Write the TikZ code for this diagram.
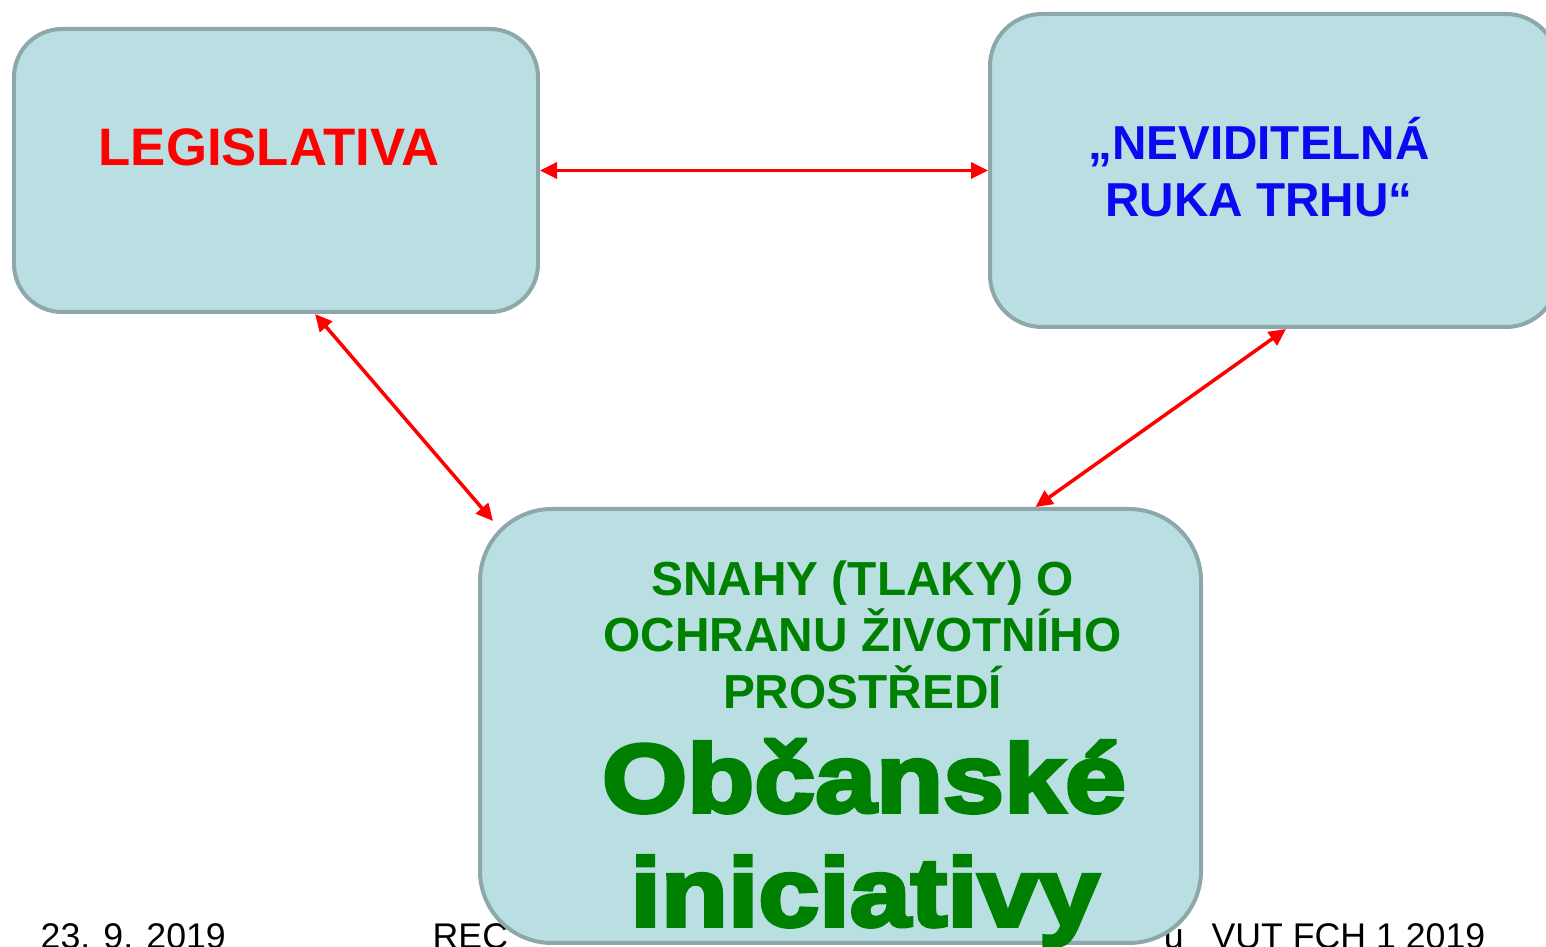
\documentclass[tikz,border=0pt]{standalone}
\usepackage{fontspec}
\setmainfont{Liberation Sans}
\newfontfamily\blackfont[FakeBold=4,FakeStretch=1.13]{Liberation Sans}
\usetikzlibrary{arrows.meta,calc}
\definecolor{boxfill}{HTML}{B9DFE3}
\definecolor{boxline}{HTML}{8DA7AA}
\definecolor{legred}{HTML}{FF0000}
\definecolor{mktblue}{HTML}{0A0AF0}
\definecolor{civgreen}{HTML}{008000}
\tikzset{
  panel/.style={draw=boxline, fill=boxfill, line width=0.04cm, inner sep=0pt},
  link/.style={draw=legred, line width=0.035cm, {Triangle[length=0.17cm,width=0.16cm]}-{Triangle[length=0.17cm,width=0.16cm]}},
  footer/.style={font=\fontsize{10.15}{12}\selectfont, text=black, inner sep=0pt, anchor=base west},
  legtext/.style={font=\bfseries\fontsize{15.0}{17}\selectfont, text=legred, inner sep=0pt, anchor=base},
  mkttext/.style={font=\bfseries\fontsize{13.55}{16}\selectfont, text=mktblue, inner sep=0pt, anchor=base},
  civtext/.style={font=\bfseries\fontsize{13.6}{16}\selectfont, text=civgreen, inner sep=0pt, anchor=base},
  civbig/.style={font=\blackfont\bfseries\fontsize{27.6}{30}\selectfont, text=civgreen, inner sep=0pt, anchor=base},
}
\begin{document}
\begin{tikzpicture}
\useasboundingbox (0,0) rectangle (15.46,-9.47);
\clip (0,0) rectangle (15.46,-9.47);
% footer
\node[footer] (date) at (0.40,-9.48) {23. 9. 2019};
\node[footer] (rec) at (4.32,-9.48) {REC};
\node[footer, anchor=base east] (vut) at (14.86,-9.48) {u\hspace{0.28cm}VUT FCH 1 2019};
% boxes
\node[panel, minimum width=5.24cm, minimum height=2.83cm, rounded corners=0.48cm] (leg) at (2.76,-1.705) {};
\node[panel, minimum width=5.68cm, minimum height=3.13cm, rounded corners=0.52cm] (mkt) at (12.74,-1.705) {};
\node[panel, minimum width=7.21cm, minimum height=4.34cm, rounded corners=0.72cm] (civ) at (8.405,-7.26) {};
% texts
\node[legtext] (legT) at ($(leg.center)+(-0.07,0.045)$) {LEGISLATIVA};
\node[mkttext] (mktT1) at ($(mkt.center)+(-0.15,0.105)$) {„NEVIDITELNÁ};
\node[mkttext] (mktT2) at ($(mkt.center)+(-0.15,-0.465)$) {RUKA TRHU“};
\node[civtext] (civT1) at ($(civ.center)+(0.22,1.30)$) {SNAHY (TLAKY) O};
\node[civtext] (civT2) at ($(civ.center)+(0.22,0.74)$) {OCHRANU ŽIVOTNÍHO};
\node[civtext] (civT3) at ($(civ.center)+(0.22,0.17)$) {PROSTŘEDÍ};
\node[civbig] (civB1) at ($(civ.center)+(0.235,-0.86)$) {Občanské};
\node[civbig] (civB2) at ($(civ.center)+(0.245,-2.00)$) {iniciativy};
% connectors
\draw[link] (leg.east) -- (mkt.west);
\draw[link] ($(leg.south west)!0.574!(leg.south east)$) -- ($(civ.north west)+(0.15,-0.14)$);
\draw[link] ($(mkt.south west)!0.521!(mkt.south east)$) -- ($(civ.north west)!0.769!(civ.north east)$);
\end{tikzpicture}
\end{document}
